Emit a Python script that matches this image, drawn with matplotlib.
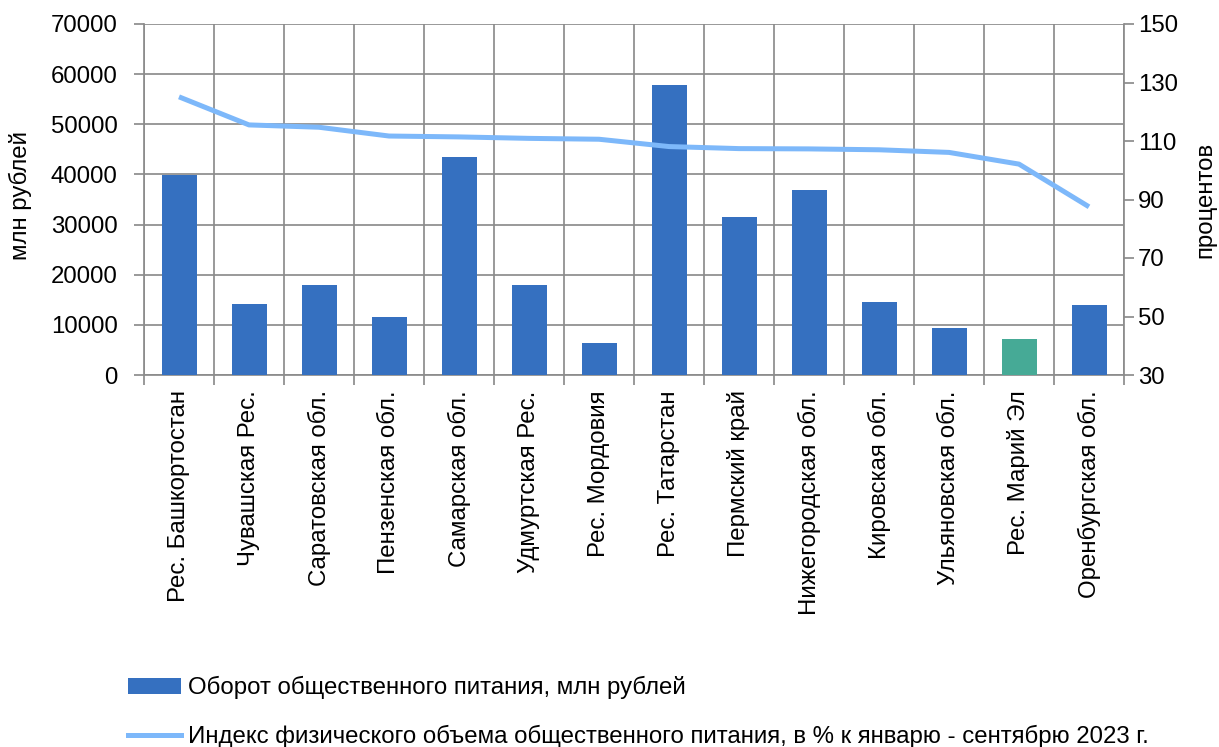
import matplotlib
matplotlib.use("Agg")
import matplotlib.pyplot as plt
from matplotlib.patches import Patch
from matplotlib.lines import Line2D
import numpy as np

plt.rcParams['font.family'] = ['Liberation Sans', 'DejaVu Sans']

categories = ["Рес. Башкортостан", "Чувашская Рес.", "Саратовская обл.", "Пензенская обл.",
              "Самарская обл.", "Удмуртская Рес.", "Рес. Мордовия", "Рес. Татарстан",
              "Пермский край", "Нижегородская обл.", "Кировская обл.", "Ульяновская обл.",
              "Рес. Марий Эл", "Оренбургская обл."]
turnover = [39900, 14200, 18000, 11600, 43500, 17900, 6400, 57800,
            31600, 36800, 14600, 9300, 7200, 14000]
index_pct = [125.1, 115.5, 114.7, 111.7, 111.4, 110.9, 110.6, 108.1,
             107.4, 107.3, 107.0, 106.1, 102.1, 87.5]
highlight = "Рес. Марий Эл"

bar_label = "Оборот общественного питания, млн рублей"
line_label = "Индекс физического объема общественного питания, в % к январю - сентябрю 2023 г."

BLUE = "#3570C0"
TEAL = "#46AA96"
LINE = "#7DB8FA"
GRID = "#8C8C8C"
FS = 17.3

fig = plt.figure(figsize=(12.19, 7.47), dpi=100)
W, H = 1219, 747
ax = fig.add_axes([144 / W, 1 - 375 / H, (1124 - 144) / W, (375 - 24) / H])
ax2 = ax.twinx()

x = np.arange(len(categories))
colors = [TEAL if c == highlight else BLUE for c in categories]
ax.bar(x, turnover, width=0.5, color=colors, zorder=3)
ax.set_xlim(-0.5, len(categories) - 0.5)
ax.set_ylim(0, 70000)
ax.set_yticks(np.arange(0, 70001, 10000))
ax.set_xticks(x)
ax.set_xticklabels(categories, rotation=90, ha='center', va='top', fontsize=FS)
ax.set_xticks(np.arange(-0.5, len(categories), 1), minor=True)
ax.tick_params(axis='x', which='major', length=0, pad=11)
ax.tick_params(axis='x', which='minor', length=7, width=1.25, color=GRID, direction='out')
ax.tick_params(axis='y', length=7, width=1.25, color=GRID, labelsize=FS, pad=12)
ax.grid(True, which='minor', axis='x', color=GRID, linewidth=1.25, zorder=0)
ax.grid(True, which='major', axis='y', color=GRID, linewidth=1.25, zorder=0)
ax.set_axisbelow(True)
for s in ['left', 'bottom', 'right', 'top']:
    ax.spines[s].set_color(GRID)
    ax.spines[s].set_linewidth(1.25)
ax.spines['top'].set_visible(False)

ax2.plot(x, index_pct, color=LINE, linewidth=3.6, zorder=4, solid_capstyle='butt')
ax2.set_ylim(30, 150)
ax2.set_yticks(np.arange(30, 151, 20))
ax2.tick_params(axis='y', length=7, width=1.25, color=GRID, labelsize=FS, pad=3)
for s in ['left', 'bottom', 'right', 'top']:
    ax2.spines[s].set_visible(False)

fig.text(20 / W, 1 - 195 / H, "млн рублей", rotation=90, ha='center', va='center', fontsize=FS)
fig.text(1205 / W, 1 - 200 / H, "процентов", rotation=90, ha='center', va='center', fontsize=FS)

handles = [Patch(facecolor=BLUE, edgecolor='none'),
           Line2D([0], [0], color=LINE, linewidth=3.6)]
fig.legend(handles, [bar_label, line_label], loc='upper left',
           bbox_to_anchor=(121 / W, 1 - 669 / H), frameon=False, fontsize=FS,
           handlelength=2.2, handleheight=0.6, handletextpad=0.3, labelspacing=1.07,
           borderaxespad=0, borderpad=0.3)

fig.savefig("out.png", dpi=100)
